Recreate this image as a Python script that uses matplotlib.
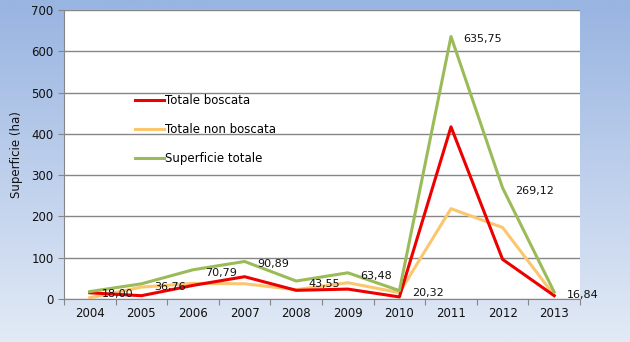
import matplotlib.pyplot as plt
import numpy as np

years = ['2004', '2005', '2006', '2007', '2008', '2009', '2010', '2011', '2012', '2013']
boscata = [15.0, 8.0, 33.0, 54.0, 21.0, 24.0, 5.0, 417.0, 96.0, 8.0]
non_boscata = [3.0, 28.76, 37.79, 36.89, 22.55, 39.48, 15.32, 218.75, 173.12, 8.84]
totale = [18.00, 36.76, 70.79, 90.89, 43.55, 63.48, 20.32, 635.75, 269.12, 16.84]

fig = plt.figure(figsize=(6.3, 3.42), dpi=100)

# blue gradient background
bg = fig.add_axes([0, 0, 1, 1], zorder=-10)
grad = np.linspace(0, 1, 256).reshape(-1, 1)
top = np.array([0x98, 0xb4, 0xe1]) / 255
bot = np.array([0xe2, 0xea, 0xf6]) / 255
img = top + (bot - top) * grad[..., None]
bg.imshow(img, aspect='auto', extent=[0, 1, 0, 1])
bg.axis('off')

ax = fig.add_axes([64/630, 1 - 299/342, 516/630, 289/342])
ax.set_facecolor('white')
x = np.arange(len(years))

ax.plot(x, boscata, color='#ee0000', lw=2.2, label='Totale boscata', zorder=3)
ax.plot(x, non_boscata, color='#fac66e', lw=2.2, label='Totale non boscata', zorder=2)
ax.plot(x, totale, color='#9bbb59', lw=2.2, label='Superficie totale', zorder=4)

for xi, v in zip(x, totale):
    ax.annotate(f'{v:.2f}'.replace('.', ','), (xi, v), xytext=(9, -2),
                textcoords='offset points', ha='left', va='center',
                fontsize=8, color='#111111', zorder=5)

ax.set_xlim(-0.5, 9.5)
ax.set_ylim(0, 700)
ax.set_yticks(range(0, 701, 100))
ax.yaxis.grid(True, color='#868686', lw=1)
ax.set_axisbelow(True)

ax.set_xticks(np.arange(-0.5, 10, 1))
ax.set_xticklabels([])
ax.set_xticks(x, minor=True)
ax.set_xticklabels(years, minor=True)
ax.tick_params(axis='x', which='major', length=4, color='#868686', direction='out')
ax.tick_params(axis='x', which='minor', length=0, pad=6, labelsize=8.5, labelcolor='#111111')
ax.tick_params(axis='y', length=4, color='#868686', labelsize=8.5, labelcolor='#111111')

for s in ['top', 'right']:
    ax.spines[s].set_visible(False)
for s in ['left', 'bottom']:
    ax.spines[s].set_color('#868686')

ax.set_ylabel('Superficie (ha)', fontsize=8.5, color='#111111', labelpad=6)

ax.legend(loc='upper left', bbox_to_anchor=(0.138, 0.708), frameon=False,
          fontsize=8.5, handlelength=2.4, handletextpad=0.15,
          labelspacing=1.35, borderpad=0, borderaxespad=0)

fig.savefig('out.png', dpi=100)
